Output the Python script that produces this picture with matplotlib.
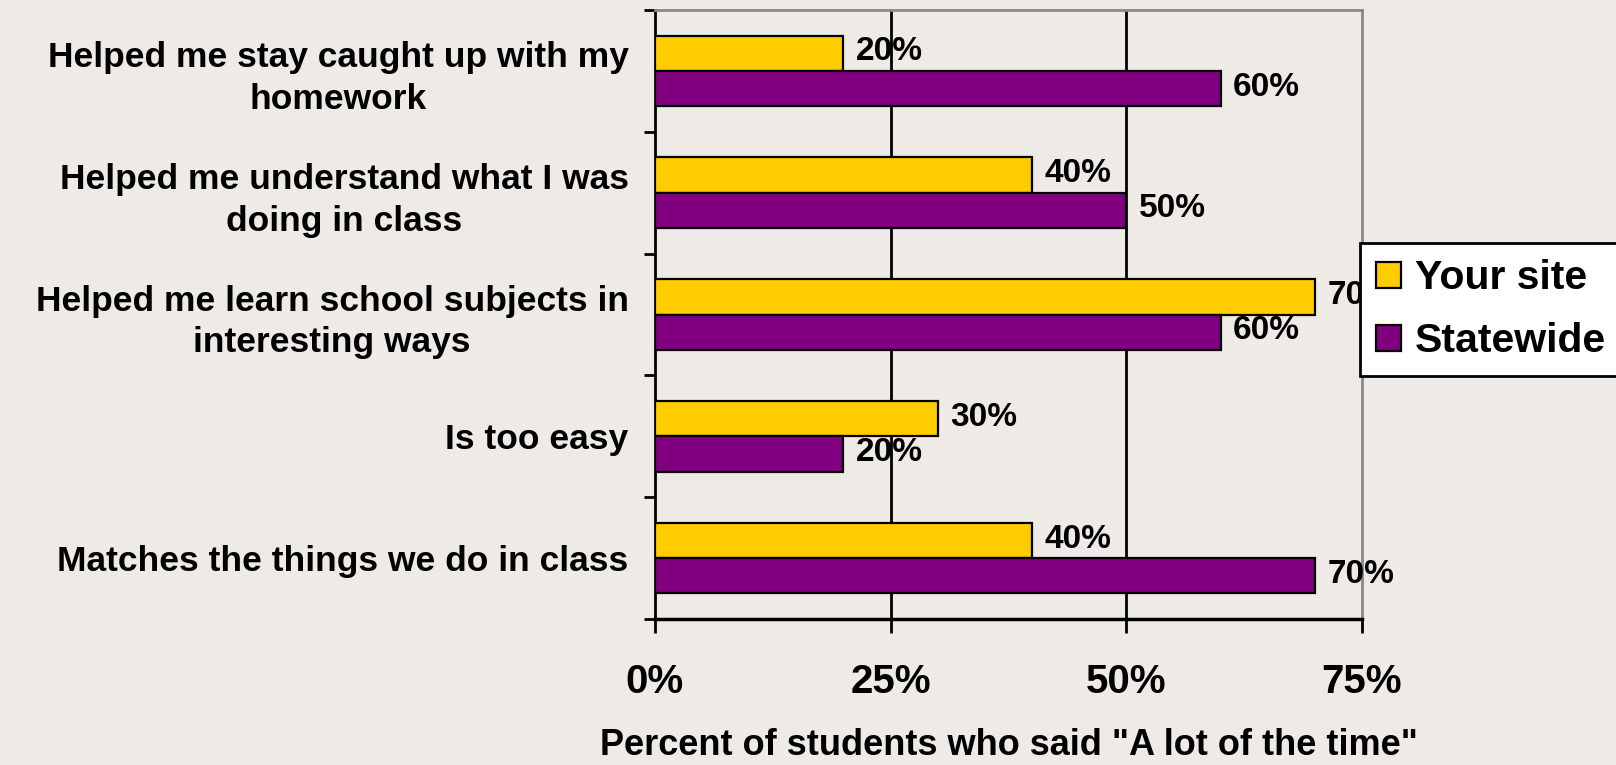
import matplotlib
matplotlib.use("Agg")
import matplotlib.pyplot as plt
import numpy as np

categories = [
    "Helped me stay caught up with my\nhomework",
    "Helped me understand what I was\ndoing in class",
    "Helped me learn school subjects in\ninteresting ways",
    "Is too easy",
    "Matches the things we do in class",
]
your_site = [20, 40, 70, 30, 40]
statewide = [60, 50, 60, 20, 70]
series_names = ["Your site", "Statewide"]
xticks = [0, 25, 50, 75]
xlabel = 'Percent of students who said "A lot of the time"'

BG = "#EEEBE7"
YEL = "#FFCC00"
PUR = "#800080"
FONT = ["Liberation Sans", "DejaVu Sans"]
plt.rcParams["font.family"] = FONT
plt.rcParams["font.weight"] = "bold"

fig = plt.figure(figsize=(16.16, 7.65), dpi=100, facecolor=BG)
ax = fig.add_axes([0.4053, 0.1908, 0.4375, 0.7961])
ax.set_facecolor(BG)

y = np.arange(len(categories))
h = 0.29
b1 = ax.barh(y - h / 2, your_site, height=h, color=YEL, edgecolor="black", linewidth=1.6, label=series_names[0], zorder=3)
b2 = ax.barh(y + h / 2, statewide, height=h, color=PUR, edgecolor="black", linewidth=1.6, label=series_names[1], zorder=3)

for bars, vals in ((b1, your_site), (b2, statewide)):
    for rect, v in zip(bars, vals):
        ax.annotate(f"{v}%", (v, rect.get_y() + rect.get_height() / 2),
                    xytext=(9, 1), textcoords="offset points", ha="left", va="center",
                    fontsize=24, fontweight="bold", zorder=4)

ax.set_xlim(0, 75)
ax.set_ylim(len(categories) - 0.5, -0.5)

ax.set_xticks(xticks)
ax.set_xticklabels([f"{t}%" for t in xticks], fontsize=29, fontweight="bold")
ax.tick_params(axis="x", direction="out", length=10, width=2, pad=22, colors="black")

ax.set_yticks(np.arange(-0.5, len(categories), 1.0))
ax.set_yticklabels([])
ax.tick_params(axis="y", which="major", direction="out", length=8, width=2)
ax.set_yticks(y, minor=True)
ax.set_yticklabels(categories, minor=True, fontsize=25.5, fontweight="bold",
                   ha="right", multialignment="center", linespacing=1.32)
ax.tick_params(axis="y", which="minor", length=0, pad=19)

for v in xticks[1:-1]:
    ax.axvline(v, color="black", linewidth=2, zorder=1)

ax.spines["left"].set_color("black")
ax.spines["left"].set_linewidth(2)
ax.spines["bottom"].set_color("black")
ax.spines["bottom"].set_linewidth(2.5)
ax.spines["top"].set_color("#888888")
ax.spines["top"].set_linewidth(2)
ax.spines["right"].set_color("#888888")
ax.spines["right"].set_linewidth(2)

ax.set_xlabel(xlabel, fontsize=26, fontweight="bold", labelpad=19)

leg = fig.legend(handles=[b1, b2], labels=series_names, loc="upper left",
                 bbox_to_anchor=(1360 / 1616, 1 - 243 / 765), frameon=True,
                 fancybox=False, edgecolor="black", facecolor="white", framealpha=1,
                 prop={"family": FONT, "weight": "bold", "size": 29.5},
                 handlelength=0.6, handleheight=0.6, handletextpad=0.35,
                 borderpad=0.4, labelspacing=0.6, borderaxespad=0)
leg.get_frame().set_linewidth(2)
leg.set_zorder(10)

fig.savefig("out.png", dpi=100, facecolor=BG)
